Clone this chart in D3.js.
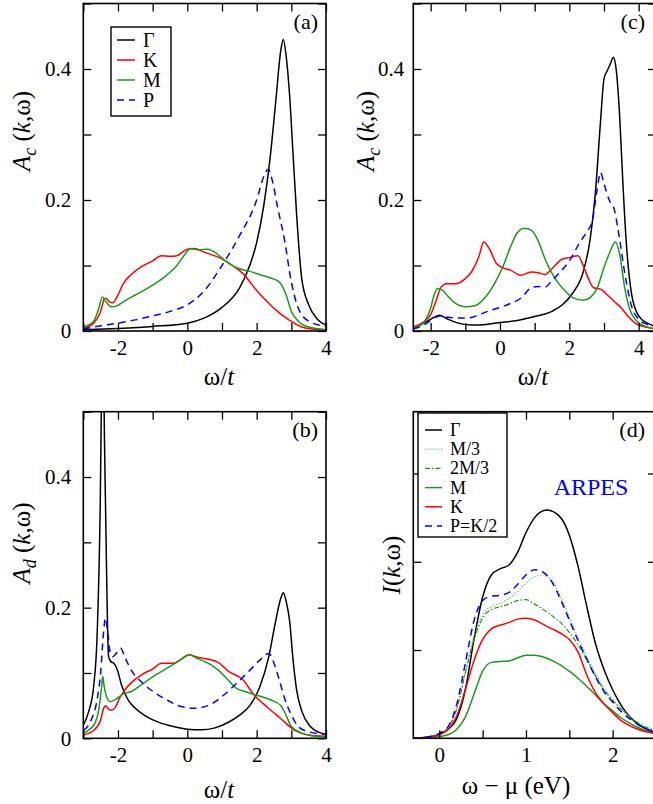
<!DOCTYPE html>
<html>
<head>
<meta charset="utf-8">
<script src="https://cdn.jsdelivr.net/npm/d3@7"></script>
<style>
  body { margin: 0; background: #fff; }
  svg { display: block; font-family: "Liberation Serif", "Times New Roman", serif; }
</style>
</head>
<body>
<div id="chart"></div>
<script>
// ---- panel (a): A_c(k,w), omega/t ----
const gammaA = [[-3,0.002],[-2,0.004],[-1,0.007],[0,0.012],[0.5,0.02],[1,0.036],[1.5,0.065],[1.8,0.1],[2,0.135],[2.2,0.19],[2.4,0.27],[2.55,0.35],[2.7,0.43],[2.77,0.445],[2.85,0.42],[2.95,0.36],[3.05,0.27],[3.15,0.18],[3.3,0.08],[3.5,0.04],[3.75,0.018],[4,0.009]];
const kA = [[-3,0.004],[-2.7,0.012],[-2.5,0.03],[-2.4,0.048],[-2.35,0.05],[-2.25,0.045],[-2.15,0.043],[-2,0.055],[-1.85,0.072],[-1.6,0.087],[-1.3,0.099],[-1,0.107],[-0.75,0.115],[-0.5,0.114],[-0.3,0.115],[0,0.125],[0.2,0.126],[0.5,0.12],[1,0.11],[1.3,0.1],[1.6,0.088],[2,0.062],[2.3,0.045],[2.6,0.03],[2.9,0.018],[3.3,0.006],[3.6,0.003],[4,0.002]];
const mA = [[-3,0.006],[-2.7,0.015],[-2.55,0.035],[-2.45,0.052],[-2.35,0.045],[-2.2,0.037],[-2.05,0.038],[-1.8,0.046],[-1.5,0.055],[-1,0.07],[-0.6,0.085],[-0.3,0.1],[-0.1,0.115],[0.1,0.126],[0.3,0.124],[0.6,0.125],[0.8,0.12],[1.1,0.107],[1.4,0.097],[1.8,0.091],[2.1,0.086],[2.4,0.081],[2.65,0.075],[2.85,0.055],[3,0.03],[3.2,0.015],[3.5,0.006],[4,0.002]];
const pA = [[-3,0.003],[-2.5,0.008],[-2,0.012],[-1.5,0.017],[-1,0.023],[-0.5,0.03],[0,0.04],[0.5,0.062],[1,0.1],[1.5,0.145],[2,0.2],[2.2,0.235],[2.33,0.247],[2.45,0.23],[2.6,0.19],[2.8,0.14],[3,0.075],[3.2,0.035],[3.5,0.015],[4,0.007]];

// ---- panel (c): A_c(k,w), second parameter set ----
const gammaC = [[-2.5,0.004],[-2.2,0.012],[-2,0.018],[-1.75,0.024],[-1.5,0.018],[-1.2,0.012],[-0.8,0.009],[-0.4,0.01],[0,0.013],[0.5,0.016],[1,0.022],[1.5,0.03],[1.8,0.04],[2.1,0.058],[2.4,0.09],[2.6,0.14],[2.75,0.21],[2.9,0.32],[3,0.385],[3.1,0.398],[3.2,0.41],[3.27,0.418],[3.35,0.4],[3.45,0.33],[3.55,0.22],[3.65,0.13],[3.8,0.055],[4,0.023],[4.25,0.012],[4.5,0.007]];
const kC = [[-2.5,0.006],[-2.2,0.014],[-2,0.025],[-1.85,0.045],[-1.7,0.067],[-1.55,0.072],[-1.3,0.072],[-1,0.08],[-0.8,0.092],[-0.6,0.115],[-0.47,0.136],[-0.3,0.125],[-0.1,0.103],[0.1,0.096],[0.3,0.093],[0.6,0.085],[0.9,0.09],[1.1,0.089],[1.3,0.086],[1.5,0.095],[1.8,0.11],[2,0.112],[2.25,0.115],[2.4,0.1],[2.55,0.08],[2.7,0.066],[2.9,0.064],[3.1,0.055],[3.3,0.045],[3.5,0.035],[3.7,0.022],[3.9,0.012],[4.2,0.006],[4.5,0.003]];
const mC = [[-2.5,0.004],[-2.2,0.013],[-2,0.035],[-1.9,0.055],[-1.8,0.065],[-1.65,0.062],[-1.5,0.053],[-1.3,0.043],[-1,0.037],[-0.7,0.039],[-0.4,0.053],[-0.1,0.078],[0.1,0.1],[0.3,0.128],[0.5,0.15],[0.7,0.157],[0.9,0.154],[1.1,0.138],[1.3,0.11],[1.5,0.088],[1.7,0.072],[1.9,0.06],[2.1,0.051],[2.4,0.047],[2.6,0.051],[2.8,0.065],[3,0.097],[3.15,0.118],[3.33,0.136],[3.45,0.118],[3.6,0.065],[3.75,0.032],[3.95,0.015],[4.2,0.007],[4.5,0.003]];
const pC = [[-2.5,0.003],[-2.2,0.009],[-2,0.016],[-1.75,0.023],[-1.5,0.021],[-1.2,0.02],[-0.9,0.02],[-0.6,0.025],[-0.3,0.031],[0,0.036],[0.3,0.042],[0.6,0.05],[0.9,0.066],[1.1,0.068],[1.3,0.067],[1.5,0.077],[1.7,0.088],[2,0.107],[2.3,0.135],[2.55,0.155],[2.65,0.165],[2.8,0.215],[2.9,0.242],[3,0.225],[3.15,0.2],[3.3,0.185],[3.45,0.14],[3.6,0.088],[3.8,0.037],[4,0.018],[4.25,0.01],[4.5,0.006]];

// ---- panel (b): A_d(k,w) ----
const gammaB = [[-3,0.02],[-2.85,0.04],[-2.7,0.08],[-2.6,0.16],[-2.51,0.365],[-2.47,0.55],[-2.44,0.65],[-2.41,0.55],[-2.39,0.46],[-2.36,0.36],[-2.33,0.26],[-2.3,0.17],[-2.27,0.125],[-2.2,0.117],[-2.12,0.115],[-2.02,0.105],[-1.9,0.082],[-1.7,0.058],[-1.5,0.046],[-1.2,0.034],[-0.8,0.024],[-0.4,0.018],[0,0.014],[0.4,0.013],[0.8,0.016],[1.2,0.025],[1.5,0.035],[1.8,0.05],[2.1,0.08],[2.35,0.125],[2.55,0.18],[2.7,0.215],[2.77,0.223],[2.85,0.21],[2.95,0.18],[3.05,0.12],[3.15,0.075],[3.3,0.042],[3.55,0.018],[3.8,0.009],[4,0.006]];
const kB = [[-3,0.005],[-2.7,0.012],[-2.5,0.028],[-2.42,0.045],[-2.36,0.05],[-2.28,0.045],[-2.2,0.043],[-2.08,0.047],[-1.95,0.062],[-1.8,0.074],[-1.6,0.086],[-1.3,0.098],[-1,0.106],[-0.75,0.115],[-0.4,0.115],[-0.2,0.12],[0.05,0.128],[0.3,0.124],[0.6,0.121],[0.9,0.116],[1.2,0.102],[1.6,0.09],[1.9,0.068],[2.3,0.048],[2.7,0.03],[3.1,0.012],[3.5,0.005],[4,0.003]];
const mB = [[-3,0.008],[-2.7,0.02],[-2.55,0.045],[-2.47,0.08],[-2.44,0.095],[-2.4,0.08],[-2.33,0.064],[-2.22,0.056],[-2.05,0.06],[-1.85,0.068],[-1.6,0.072],[-1.3,0.083],[-1,0.094],[-0.5,0.11],[-0.2,0.12],[0.05,0.128],[0.3,0.122],[0.6,0.115],[0.9,0.104],[1.2,0.088],[1.4,0.077],[1.7,0.071],[2,0.066],[2.4,0.059],[2.7,0.05],[2.85,0.035],[3,0.018],[3.3,0.008],[3.6,0.004],[4,0.002]];
const pB = [[-3,0.012],[-2.8,0.025],[-2.6,0.06],[-2.5,0.1],[-2.42,0.16],[-2.36,0.184],[-2.3,0.165],[-2.22,0.13],[-2.15,0.125],[-2.05,0.13],[-1.92,0.138],[-1.8,0.124],[-1.6,0.103],[-1.3,0.085],[-1,0.072],[-0.6,0.059],[-0.2,0.049],[0.2,0.046],[0.6,0.05],[1,0.064],[1.4,0.083],[1.8,0.104],[2.1,0.12],[2.35,0.13],[2.5,0.115],[2.65,0.09],[2.8,0.062],[3,0.036],[3.2,0.018],[3.5,0.01],[4,0.006]];

// ---- panel (d): ARPES intensity vs w - mu (eV) ----
const gammaD = [[-0.3,0],[-0.1,0.02],[0,0.045],[0.1,0.1],[0.2,0.22],[0.3,0.55],[0.4,1.12],[0.5,1.6],[0.6,1.85],[0.7,1.92],[0.8,1.96],[0.9,2.1],[1,2.33],[1.1,2.5],[1.24,2.585],[1.4,2.5],[1.5,2.3],[1.6,1.95],[1.7,1.5],[1.8,1.08],[1.9,0.78],[2,0.55],[2.1,0.37],[2.2,0.24],[2.3,0.155],[2.4,0.1],[2.5,0.065]];
const m3D = [[-0.3,0],[-0.1,0.02],[0,0.05],[0.1,0.12],[0.2,0.33],[0.3,0.75],[0.4,1.15],[0.5,1.4],[0.6,1.49],[0.7,1.53],[0.8,1.58],[0.9,1.66],[1,1.76],[1.1,1.83],[1.2,1.85],[1.3,1.79],[1.4,1.6],[1.5,1.37],[1.6,1.14],[1.7,0.93],[1.8,0.74],[1.9,0.57],[2,0.44],[2.1,0.33],[2.2,0.24],[2.3,0.17],[2.4,0.12],[2.5,0.08]];
const m23D = [[-0.3,0],[-0.1,0.02],[0,0.05],[0.1,0.12],[0.2,0.33],[0.3,0.74],[0.4,1.12],[0.5,1.36],[0.6,1.46],[0.7,1.49],[0.8,1.52],[0.9,1.56],[1,1.57],[1.1,1.52],[1.2,1.46],[1.3,1.39],[1.4,1.31],[1.5,1.2],[1.6,1.06],[1.7,0.89],[1.8,0.71],[1.9,0.55],[2,0.43],[2.1,0.33],[2.2,0.245],[2.3,0.17],[2.4,0.12],[2.5,0.08]];
const mD = [[-0.3,0],[-0.1,0.008],[0,0.02],[0.1,0.04],[0.2,0.1],[0.3,0.24],[0.4,0.5],[0.5,0.76],[0.6,0.86],[0.7,0.87],[0.8,0.875],[0.9,0.91],[1,0.94],[1.1,0.94],[1.2,0.92],[1.3,0.88],[1.4,0.83],[1.5,0.76],[1.6,0.68],[1.7,0.59],[1.8,0.49],[1.9,0.39],[2,0.31],[2.1,0.23],[2.2,0.17],[2.3,0.12],[2.4,0.08],[2.5,0.055]];
const kD = [[-0.3,0],[-0.1,0.015],[0,0.04],[0.1,0.1],[0.2,0.25],[0.3,0.55],[0.4,0.88],[0.5,1.12],[0.6,1.24],[0.7,1.28],[0.8,1.31],[0.9,1.35],[1,1.36],[1.1,1.34],[1.2,1.29],[1.3,1.24],[1.4,1.19],[1.5,1.12],[1.6,0.98],[1.7,0.72],[1.8,0.52],[1.9,0.39],[2,0.29],[2.1,0.2],[2.2,0.14],[2.3,0.1],[2.4,0.07],[2.5,0.05]];
const pD = [[-0.3,0],[-0.1,0.02],[0,0.055],[0.1,0.13],[0.2,0.38],[0.3,0.85],[0.4,1.33],[0.5,1.56],[0.6,1.61],[0.7,1.62],[0.8,1.65],[0.9,1.74],[1,1.85],[1.1,1.91],[1.2,1.88],[1.3,1.77],[1.4,1.57],[1.5,1.34],[1.6,1.11],[1.7,0.9],[1.8,0.7],[1.9,0.53],[2,0.41],[2.1,0.3],[2.2,0.22],[2.3,0.15],[2.4,0.1],[2.5,0.065]];

// tick values
const xTicksW = [-3, -2, -1, 0, 1, 2, 3, 4];
const xTicksWc = [-2, -1, 0, 1, 2, 3, 4];
const xLabelsW = [-2, 0, 2, 4];
const yTicksA = [0, 0.1, 0.2, 0.3, 0.4, 0.5];
const yLabelsA = [0, 0.2, 0.4];
const xTicksE = [0, 0.5, 1, 1.5, 2, 2.5];
const xLabelsE = [0, 1, 2];
const yTicksI = [1, 2, 3];

const legendA = ["Γ", "K", "M", "P"];
const legendD = ["Γ", "M/3", "2M/3", "M", "K", "P=K/2"];

const green = "#1a9a1a";
const sty = {
  gamma: { color: "#000", dash: null },
  k: { color: "#f00", dash: null },
  m: { color: green, dash: null },
  p: { color: "#00f", dash: "7,5" },
  m3: { color: "#4cb84c", dash: "1.2,2", width: 1.2 },
  m23: { color: green, dash: "5,2,1.5,2", width: 1.2 }
};

const W = 653, H = 804;
const svg = d3.select("#chart").append("svg").attr("width", W).attr("height", H);

const panels = [
  { tag: "(a)", x0: 83.3, y0: 3.5, w: 242.7, h: 327.5, xd: [-3, 4], yd: [0, 0.5],
    xt: xTicksW, xl: xLabelsW, yt: yTicksA, yl: yLabelsA, ylPad: 12,
    series: [[gammaA, sty.gamma], [kA, sty.k], [mA, sty.m], [pA, sty.p]],
    xlab: "w", xlabX: 219, xlabY: 385, ylab: "c", ylabX: 30, ylabY: 131 },
  { tag: "(c)", x0: 413.3, y0: 3.5, w: 242.7, h: 327.5, xd: [-2.5, 4.5], yd: [0, 0.5],
    xt: xTicksWc, xl: xLabelsW, yt: yTicksA, yl: yLabelsA, ylPad: 9,
    series: [[gammaC, sty.gamma], [kC, sty.k], [mC, sty.m], [pC, sty.p]],
    xlab: "w", xlabX: 533, xlabY: 385, ylab: "c", ylabX: 374, ylabY: 131 },
  { tag: "(b)", x0: 83.3, y0: 411.7, w: 242.7, h: 326.6, xd: [-3, 4], yd: [0, 0.5],
    xt: xTicksW, xl: xLabelsW, yt: yTicksA, yl: yLabelsA, ylPad: 12,
    series: [[gammaB, sty.gamma], [kB, sty.k], [mB, sty.m], [pB, sty.p]],
    xlab: "w", xlabX: 219, xlabY: 798, ylab: "d", ylabX: 30, ylabY: 543 },
  { tag: "(d)", x0: 413.3, y0: 411.7, w: 242.7, h: 326.6, xd: [-0.3, 2.5], yd: [0, 3.7],
    xt: xTicksE, xl: xLabelsE, yt: yTicksI, yl: [], ylPad: 9,
    series: [[gammaD, sty.gamma], [m3D, sty.m3], [m23D, sty.m23], [mD, sty.m], [kD, sty.k], [pD, sty.p]],
    xlab: "e", xlabX: 516, xlabY: 794, ylab: "I", ylabX: 400, ylabY: 565 }
];

panels.forEach((p, pi) => {
  const x = d3.scaleLinear().domain(p.xd).range([p.x0, p.x0 + p.w]);
  const y = d3.scaleLinear().domain(p.yd).range([p.y0 + p.h, p.y0]);
  const g = svg.append("g");

  const clipId = `clip_${pi}`;
  svg.append("clipPath").attr("id", clipId)
    .append("rect").attr("x", p.x0).attr("y", p.y0).attr("width", p.w).attr("height", p.h);

  const line = d3.line().x(d => x(d[0])).y(d => y(d[1])).curve(d3.curveMonotoneX);
  const lines = g.append("g").attr("clip-path", `url(#${clipId})`);
  p.series.forEach(([data, s]) => {
    lines.append("path")
      .attr("d", line(data))
      .attr("fill", "none")
      .attr("stroke", s.color)
      .attr("stroke-width", s.width || 1.5)
      .attr("stroke-dasharray", s.dash);
  });

  // inward ticks on all 4 sides
  const fmtX = d => (p.xl.includes(d) ? String(d) : "");
  const fmtY = d => (p.yl.includes(d) ? (d === 0 ? "0" : d3.format(".1f")(d)) : "");
  const ax = [
    g.append("g").attr("transform", `translate(0,${p.y0 + p.h})`)
      .call(d3.axisBottom(x).tickValues(p.xt).tickSize(-8).tickPadding(9).tickFormat(fmtX)),
    g.append("g").attr("transform", `translate(0,${p.y0})`)
      .call(d3.axisTop(x).tickValues(p.xt).tickSize(-8).tickFormat("")),
    g.append("g").attr("transform", `translate(${p.x0},0)`)
      .call(d3.axisLeft(y).tickValues(p.yt).tickSize(-8).tickPadding(p.ylPad).tickFormat(fmtY)),
    g.append("g").attr("transform", `translate(${p.x0 + p.w},0)`)
      .call(d3.axisRight(y).tickValues(p.yt).tickSize(-8).tickFormat(""))
  ];
  ax.forEach(a => {
    a.select(".domain").remove();
    a.selectAll(".tick line").attr("stroke", "#000").attr("stroke-width", 1.3);
    a.selectAll(".tick text").attr("font-family", "Liberation Serif").attr("font-size", 21).attr("fill", "#000");
  });

  g.append("rect").attr("x", p.x0).attr("y", p.y0).attr("width", p.w).attr("height", p.h)
    .attr("fill", "none").attr("stroke", "#000").attr("stroke-width", 1.6);

  // panel tag
  g.append("text").attr("x", p.x0 + p.w - (p.x0 > 300 ? 11 : 8)).attr("y", p.y0 + 25)
    .attr("text-anchor", "end").attr("font-size", 22).text(p.tag);

  // x label
  const xl = g.append("text").attr("x", p.xlabX).attr("y", p.xlabY)
    .attr("text-anchor", "middle").attr("font-size", 25);
  if (p.xlab === "w") {
    xl.append("tspan").text("ω/");
    xl.append("tspan").attr("font-style", "italic").text("t");
  } else {
    xl.text("ω − μ (eV)");
  }

  // y label (rotated)
  const yl = g.append("text")
    .attr("transform", `translate(${p.ylabX},${p.ylabY}) rotate(-90)`)
    .attr("text-anchor", "middle").attr("font-size", 25);
  if (p.ylab === "I") {
    yl.append("tspan").attr("font-style", "italic").text("I");
    yl.append("tspan").text("(");
  } else {
    yl.append("tspan").attr("font-style", "italic").text("A");
    yl.append("tspan").attr("font-style", "italic").attr("font-size", 18).attr("dy", 6).text(p.ylab);
    yl.append("tspan").attr("dy", -6).text(" (");
  }
  yl.append("tspan").attr("font-style", "italic").text("k");
  yl.append("tspan").text(",ω)");
});

// legend (a)
const legA = svg.append("g");
legA.append("rect").attr("x", 111).attr("y", 27).attr("width", 60).attr("height", 89)
  .attr("fill", "#fff").attr("stroke", "#000").attr("stroke-width", 1.4);
const legAStyles = [sty.gamma, sty.k, sty.m, sty.p];
legendA.forEach((name, i) => {
  const yy = 40 + i * 20;
  legA.append("line").attr("x1", 117).attr("x2", 135).attr("y1", yy).attr("y2", yy)
    .attr("stroke", legAStyles[i].color).attr("stroke-width", 1.5)
    .attr("stroke-dasharray", legAStyles[i].dash);
  legA.append("text").attr("x", 143).attr("y", yy + 7).attr("font-size", 20).text(name);
});

// legend (d)
const legD = svg.append("g");
legD.append("rect").attr("x", 418).attr("y", 413).attr("width", 89).attr("height", 124)
  .attr("fill", "#fff").attr("stroke", "#000").attr("stroke-width", 1.4);
const legDStyles = [sty.gamma, sty.m3, sty.m23, sty.m, sty.k, sty.p];
legendD.forEach((name, i) => {
  const yy = 430 + i * 19.2;
  legD.append("line").attr("x1", 425).attr("x2", 442).attr("y1", yy).attr("y2", yy)
    .attr("stroke", legDStyles[i].color).attr("stroke-width", legDStyles[i].width || 1.5)
    .attr("stroke-dasharray", legDStyles[i].dash);
  legD.append("text").attr("x", 450).attr("y", yy + 6).attr("font-size", 18).text(name);
});

svg.append("text").attr("x", 591).attr("y", 495).attr("text-anchor", "middle")
  .attr("font-size", 24).attr("fill", "#00f").text("ARPES");
</script>
</body>
</html>
